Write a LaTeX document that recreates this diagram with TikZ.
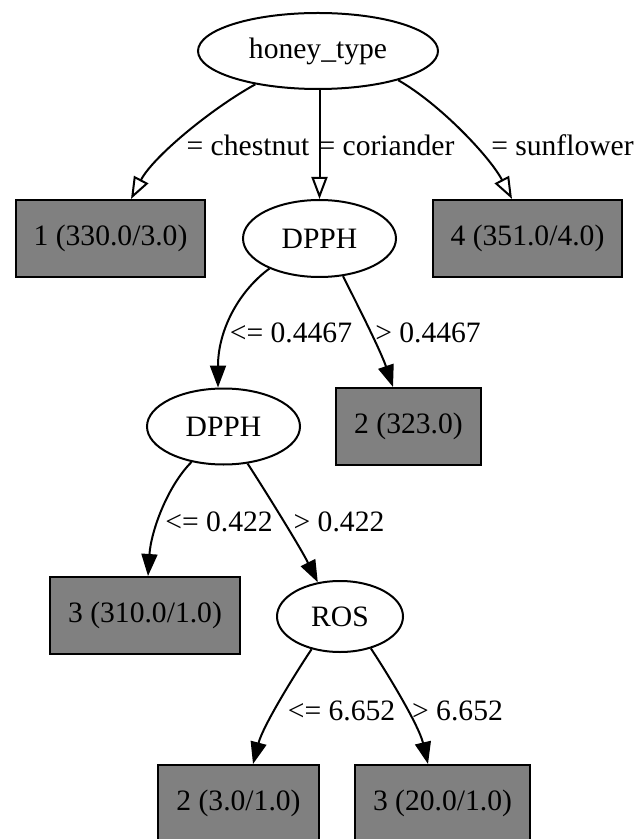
\documentclass[tikz,border=0pt]{standalone}
\usepackage{fontspec}
\setmainfont{Liberation Serif}
\usetikzlibrary{arrows.meta,shapes.geometric}
\definecolor{leafgray}{RGB}{128,128,128}
\begin{document}
\begin{tikzpicture}[x=0.5pt,y=-0.5pt,
  every node/.style={font=\fontsize{14.8pt}{17pt}\selectfont},
  split/.style={ellipse,draw,line width=1pt,inner sep=0pt},
  leaf/.style={rectangle,draw,line width=1pt,fill=leafgray,inner sep=0pt},
  lbl/.style={inner sep=0pt},
  oedge/.style={line width=1pt,-{Triangle[open,length=11pt,width=8pt]}},
  fedge/.style={line width=1pt,-{Triangle[length=11pt,width=8pt]}},
]
\useasboundingbox (0,0) rectangle (635,839);

% nodes
\node[split,minimum width=120pt,minimum height=38pt] (honey) at (318,51) {honey\_type};
\node[leaf,minimum width=94.5pt,minimum height=38.5pt] (b1) at (110.5,238.5) {1 (330.0/3.0)};
\node[split,minimum width=76.5pt,minimum height=38.5pt] (dpph1) at (319.5,238.5) {DPPH};
\node[leaf,minimum width=94.5pt,minimum height=38.5pt] (b4) at (527.5,238.5) {4 (351.0/4.0)};
\node[split,minimum width=76.5pt,minimum height=38pt] (dpph2) at (223.5,426.5) {DPPH};
\node[leaf,minimum width=72.5pt,minimum height=38.5pt] (b2) at (408.5,426.5) {2 (323.0)};
\node[leaf,minimum width=95pt,minimum height=38.5pt] (b3) at (145,615.5) {3 (310.0/1.0)};
\node[split,minimum width=63pt,minimum height=35.5pt] (ros) at (340,616.5) {ROS};
\node[leaf,minimum width=80.5pt,minimum height=38.5pt] (b5) at (238.5,803.5) {2 (3.0/1.0)};
\node[leaf,minimum width=87.5pt,minimum height=38.5pt] (b6) at (442.5,803.5) {3 (20.0/1.0)};

% edges
\draw[oedge] (honey.208) .. controls +(-45,25) and +(22,-42) .. ([xshift=10.25pt]b1.north);
\draw[oedge] (honey.south -| dpph1.north) -- (dpph1.north);
\draw[oedge] (honey.340) .. controls +(42,24) and +(-22,-42) .. ([xshift=-7.75pt]b4.north);
\draw[fedge] (dpph1.211) .. controls +(-30,22) and +(0,-58) .. ([xshift=-2.75pt]dpph2.north);
\draw[fedge] (dpph1.302) .. controls +(10,20) and +(-13,-38) .. ([xshift=-7.75pt]b2.north);
\draw[fedge] (dpph2.228) .. controls +(-24,24) and +(3,-45) .. ([xshift=1.5pt]b3.north);
\draw[fedge] (dpph2.303) .. controls +(15,23) and +(-18,-36) .. (ros.123);
\draw[fedge] (ros.229) .. controls +(-18,27) and +(10,-38) .. ([xshift=7.25pt]b5.north);
\draw[fedge] (ros.314) .. controls +(18,27) and +(-9,-38) .. ([xshift=-7.25pt]b6.north);

% labels
\node[lbl] (l1) at (248,145) {= chestnut};
\node[lbl] (l2) at (386.5,145) {= coriander};
\node[lbl] (l3) at (562.5,145) {= sunflower};
\node[lbl] (l4) at (291,333) {<= 0.4467};
\node[lbl] (l5) at (428,333) {> 0.4467};
\node[lbl] (l6) at (219,522) {<= 0.422};
\node[lbl] (l7) at (339,522) {> 0.422};
\node[lbl] (l8) at (341.5,711) {<= 6.652};
\node[lbl] (l9) at (457.5,711) {> 6.652};
\end{tikzpicture}
\end{document}
